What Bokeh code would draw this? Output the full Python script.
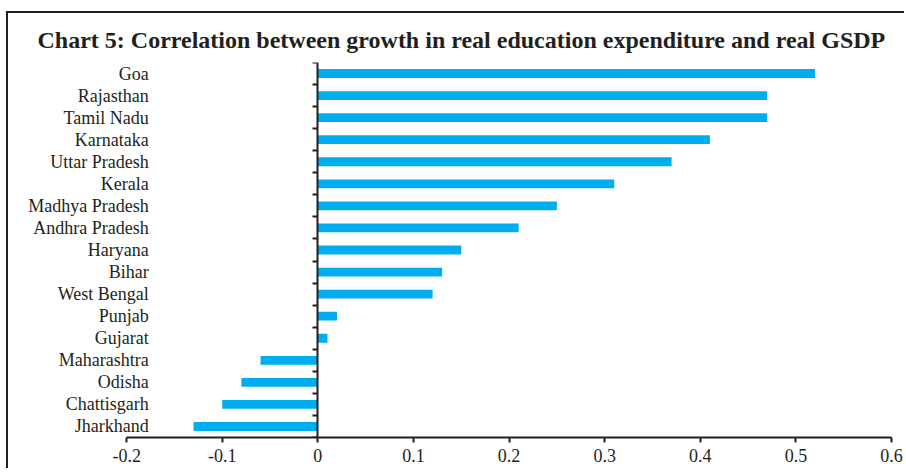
from bokeh.plotting import figure
from bokeh.models import Range1d, FixedTicker, ColumnDataSource
from bokeh.core.properties import value
from bokeh.embed import file_html
from bokeh.resources import INLINE

states = ["Goa", "Rajasthan", "Tamil Nadu", "Karnataka", "Uttar Pradesh", "Kerala",
          "Madhya Pradesh", "Andhra Pradesh", "Haryana", "Bihar", "West Bengal",
          "Punjab", "Gujarat", "Maharashtra", "Odisha", "Chattisgarh", "Jharkhand"]
correlation = [0.52, 0.47, 0.47, 0.41, 0.37, 0.31, 0.25, 0.21, 0.15, 0.13, 0.12,
               0.02, 0.01, -0.06, -0.08, -0.10, -0.13]
x_ticks = [-0.2, -0.1, 0.0, 0.1, 0.2, 0.3, 0.4, 0.5, 0.6]
x_tick_labels = ["-0.2", "-0.1", "0", "0.1", "0.2", "0.3", "0.4", "0.5", "0.6"]

n = len(states)
ypos = [n - i - 0.5 for i in range(n)]
src = ColumnDataSource(dict(state=states, val=correlation, y=ypos,
                            lx=[x_ticks[0]] * n))

DARK = "#231f20"
FONT = "Liberation Serif"

p = figure(width=898, height=457, output_backend="svg", toolbar_location=None,
           x_range=Range1d(-0.31, x_ticks[-1]), y_range=Range1d(0, n),
           min_border_left=13, min_border_right=15, min_border_top=49,
           min_border_bottom=33,
           title="Chart 5: Correlation between growth in real education expenditure and real GSDP",
           styles={"border-top": "2px solid #231f20", "border-left": "2px solid #231f20",
                   "margin-left": "6px", "margin-top": "11px"})
p.title.text_font = FONT
p.title.text_font_style = "bold"
p.title.text_font_size = "24px"
p.title.text_color = DARK
p.title.align = "left"
p.title.offset = 16
p.title.standoff = 19

p.hbar(y="y", right="val", left=0, height=0.4, source=src,
       fill_color="#00AEEF", line_color=None)

p.text(x="lx", y="y", text="state", source=src, x_offset=22,
       text_align="right", text_baseline="middle",
       text_font=value(FONT), text_font_size="18px", text_color=DARK)

p.xgrid.visible = False
p.ygrid.visible = False
p.outline_line_color = None

xa = p.xaxis[0]
xa.bounds = (x_ticks[0], x_ticks[-1])
xa.ticker = FixedTicker(ticks=x_ticks)
xa.major_label_overrides = {t: l for t, l in zip(x_ticks, x_tick_labels)}
xa.minor_tick_line_color = None
xa.major_tick_in = 0
xa.major_tick_out = 5
xa.axis_line_width = 2
xa.axis_line_color = DARK
xa.major_tick_line_color = DARK
xa.major_tick_line_width = 2
xa.major_label_text_font = FONT
xa.major_label_text_font_size = "18px"
xa.major_label_text_color = DARK
xa.major_label_standoff = 6

ya = p.yaxis[0]
ya.fixed_location = 0
ya.ticker = FixedTicker(ticks=list(range(n + 1)))
ya.minor_tick_line_color = None
ya.major_tick_in = 0
ya.major_tick_out = 5
ya.axis_line_width = 2
ya.axis_line_color = DARK
ya.major_tick_line_color = DARK
ya.major_tick_line_width = 2
ya.major_label_standoff = 0
ya.major_label_text_font_size = "0px"
ya.major_label_text_color = None

open("out.html", "w").write(file_html(p, INLINE))
